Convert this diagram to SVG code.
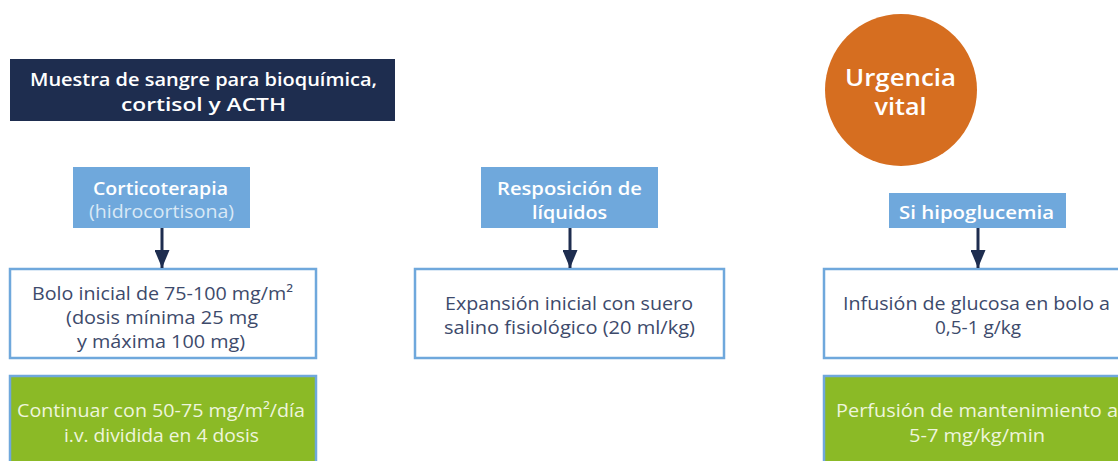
<svg xmlns="http://www.w3.org/2000/svg" width="1118" height="461" viewBox="0 0 1118 461">
<defs>
<style>
text{font-family:"Open Sans","Liberation Sans",sans-serif;text-anchor:middle}
.b{font-weight:600;fill:#ffffff;font-size:17.5px}
.r{font-size:18px;fill:#3d4a6b}
.w{font-size:18px;fill:#eef5dc}
.lb{fill:#6fa8dc}
.wb{fill:#ffffff;stroke:#6fa8dc;stroke-width:2.5}
.gb{fill:#8bba26;stroke:#6fa8dc;stroke-width:2.5}
.c{stroke:#1e2d4f;stroke-width:3;fill:none}
</style>
<marker id="ah" viewBox="0 0 18 15" refX="18" refY="7.5" markerWidth="18" markerHeight="15" orient="auto" markerUnits="userSpaceOnUse">
<path d="M0,0 L18,7.5 L0,15 z" fill="#1e2d4f"/>
</marker>
</defs>
<rect width="1118" height="461" fill="#ffffff"/>
<g id="muestra">
<rect x="10" y="59" width="385" height="62" fill="#1e2d4f"/>
<text class="b" x="203.5" y="86" textLength="347" lengthAdjust="spacingAndGlyphs">Muestra de sangre para bioquímica,</text>
<text class="b" x="203.5" y="111" textLength="165" lengthAdjust="spacingAndGlyphs">cortisol y ACTH</text>
</g>
<g id="urgencia">
<circle cx="901" cy="90" r="76" fill="#d66e20"/>
<text class="b" x="900.5" y="86" style="font-size:23px" textLength="111" lengthAdjust="spacingAndGlyphs">Urgencia</text>
<text class="b" x="900.5" y="115" style="font-size:23px" textLength="52" lengthAdjust="spacingAndGlyphs">vital</text>
</g>
<g id="corticoterapia">
<rect class="lb" x="73" y="167" width="177" height="61"/>
<text class="b" x="160.5" y="195" textLength="135" lengthAdjust="spacingAndGlyphs">Corticoterapia</text>
<text x="161.5" y="218" style="font-size:17.5px;fill:#d9e8f6" textLength="145" lengthAdjust="spacingAndGlyphs">(hidrocortisona)</text>
</g>
<g id="liquidos">
<rect class="lb" x="481" y="167" width="177" height="61"/>
<text class="b" x="569.5" y="195" textLength="145" lengthAdjust="spacingAndGlyphs">Resposición de</text>
<text class="b" x="569.5" y="219" textLength="75" lengthAdjust="spacingAndGlyphs">líquidos</text>
</g>
<g id="hipoglucemia">
<rect class="lb" x="889" y="193" width="177" height="35"/>
<text class="b" x="976.5" y="219" textLength="155" lengthAdjust="spacingAndGlyphs">Si hipoglucemia</text>
</g>
<g id="bolo">
<rect class="wb" x="10" y="269" width="306" height="89"/>
<text class="r" x="162.5" y="300" textLength="261" lengthAdjust="spacingAndGlyphs">Bolo inicial de 75-100 mg/m²</text>
<text class="r" x="162" y="324" textLength="192" lengthAdjust="spacingAndGlyphs">(dosis mínima 25 mg</text>
<text class="r" x="161" y="348" textLength="168" lengthAdjust="spacingAndGlyphs">y máxima 100 mg)</text>
</g>
<g id="continuar">
<rect class="gb" x="10" y="376" width="306" height="100"/>
<text class="w" x="161" y="417" textLength="288" lengthAdjust="spacingAndGlyphs">Continuar con 50-75 mg/m²/día</text>
<text class="w" x="161.5" y="442" textLength="195" lengthAdjust="spacingAndGlyphs">i.v. dividida en 4 dosis</text>
</g>
<g id="expansion">
<rect class="wb" x="415" y="269" width="309" height="89"/>
<text class="r" x="569" y="310" textLength="248" lengthAdjust="spacingAndGlyphs">Expansión inicial con suero</text>
<text class="r" x="569.5" y="334" textLength="251" lengthAdjust="spacingAndGlyphs">salino fisiológico (20 ml/kg)</text>
</g>
<g id="infusion">
<rect class="wb" x="824" y="269" width="310" height="89"/>
<text class="r" x="976.5" y="310" textLength="267" lengthAdjust="spacingAndGlyphs">Infusión de glucosa en bolo a</text>
<text class="r" x="978" y="334" textLength="86" lengthAdjust="spacingAndGlyphs">0,5-1 g/kg</text>
</g>
<g id="perfusion">
<rect class="gb" x="824" y="376" width="310" height="100"/>
<text class="w" x="977" y="417" textLength="282" lengthAdjust="spacingAndGlyphs">Perfusión de mantenimiento a</text>
<text class="w" x="977" y="442" textLength="136" lengthAdjust="spacingAndGlyphs">5-7 mg/kg/min</text>
</g>
<g id="connectors">
<line class="c" x1="162" y1="228" x2="162" y2="268" marker-end="url(#ah)"/>
<line class="c" x1="570" y1="228" x2="570" y2="268" marker-end="url(#ah)"/>
<line class="c" x1="978" y1="228" x2="978" y2="268" marker-end="url(#ah)"/>
</g>
</svg>
